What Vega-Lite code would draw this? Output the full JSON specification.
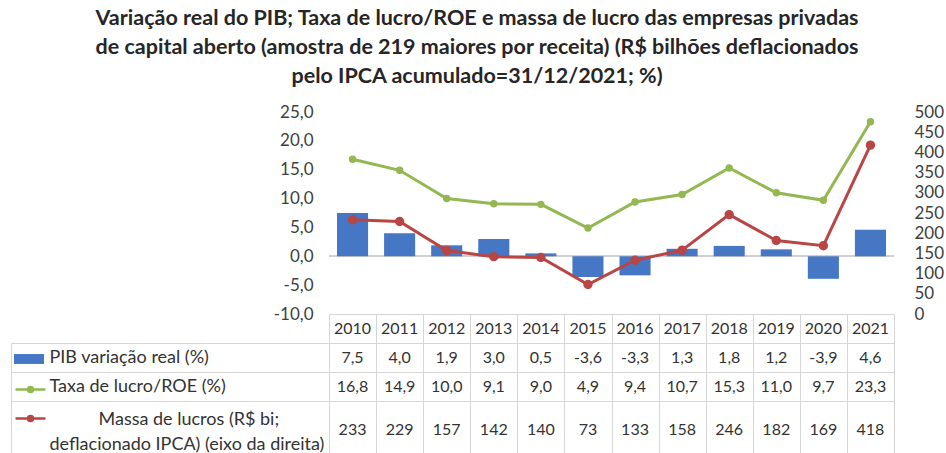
{
  "$schema": "https://vega.github.io/schema/vega-lite/v6.json",
  "background": "white",
  "padding": {"left": 10, "top": 7, "right": 0, "bottom": 0},
  "datasets": {
    "d": [
      {"ano": "2010", "pib": 7.5, "roe": 16.8, "massa": 233},
      {"ano": "2011", "pib": 4.0, "roe": 14.9, "massa": 229},
      {"ano": "2012", "pib": 1.9, "roe": 10.0, "massa": 157},
      {"ano": "2013", "pib": 3.0, "roe": 9.1, "massa": 142},
      {"ano": "2014", "pib": 0.5, "roe": 9.0, "massa": 140},
      {"ano": "2015", "pib": -3.6, "roe": 4.9, "massa": 73},
      {"ano": "2016", "pib": -3.3, "roe": 9.4, "massa": 133},
      {"ano": "2017", "pib": 1.3, "roe": 10.7, "massa": 158},
      {"ano": "2018", "pib": 1.8, "roe": 15.3, "massa": 246},
      {"ano": "2019", "pib": 1.2, "roe": 11.0, "massa": 182},
      {"ano": "2020", "pib": -3.9, "roe": 9.7, "massa": 169},
      {"ano": "2021", "pib": 4.6, "roe": 23.3, "massa": 418}
    ]
  },
  "title": {
    "text": [
      "Variação real do PIB; Taxa de lucro/ROE e massa de lucro das empresas privadas",
      "de capital aberto (amostra de 219 maiores por receita) (R$ bilhões deflacionados",
      "pelo IPCA acumulado=31/12/2021; %)"
    ],
    "font": "Lato",
    "fontSize": 21.5,
    "fontWeight": "bold",
    "color": "#262626",
    "lineHeight": 29,
    "anchor": "middle",
    "offset": 16
  },
  "spacing": 0,
  "bounds": "flush",
  "resolve": {"scale": {"x": "independent", "y": "independent"}},
  "vconcat": [
    {
      "width": 565,
      "height": 202,
      "data": {"name": "d"},
      "layer": [
        {
          "layer": [
            {
              "mark": {"type": "rule", "color": "#d0d0d0", "strokeWidth": 1.5},
              "encoding": {
                "y": {
                  "datum": 0, "type": "quantitative",
                  "scale": {"domain": [-10, 25], "nice": false, "zero": false},
                  "axis": {"values": [25, 20, 15, 10, 5, 0, -5, -10], "format": ".1f", "ticks": false, "domain": false, "grid": false, "labelOverlap": false, "labelFlush": false, "labelPadding": 16, "labelFontSize": 17, "labelColor": "#404040", "labelFont": "Lato", "title": null}
                }
              }
            },
            {
              "mark": {"type": "bar"},
              "encoding": {
                "x": {"field": "ano", "type": "ordinal", "scale": {"paddingInner": 0.34, "paddingOuter": 0.17}, "axis": null},
                "y": {
                  "field": "pib", "type": "quantitative",
                  "axis": {"values": [25, 20, 15, 10, 5, 0, -5, -10], "format": ".1f", "ticks": false, "domain": false, "grid": false, "labelOverlap": false, "labelFlush": false, "labelPadding": 16, "labelFontSize": 17, "labelColor": "#404040", "labelFont": "Lato", "title": null}
                },
                "fill": {
                  "datum": "PIB variação real (%)",
                  "scale": {"range": ["#4677c4"]},
                  "legend": {
                    "orient": "none",
                    "legendX": -315,
                    "legendY": 232,
                    "title": null,
                    "symbolSize": 900,
                    "symbolType": "M-1,-0.33H1V0.33H-1Z",
                    "symbolStrokeWidth": 0,
                    "labelExpr": "''",
                    "labelFontSize": 1
                  }
                }
              }
            },
            {
              "mark": {"type": "line", "strokeWidth": 3, "point": {"filled": true, "size": 55}},
              "encoding": {
                "x": {"field": "ano", "type": "ordinal"},
                "y": {
                  "field": "roe", "type": "quantitative",
                  "axis": {"values": [25, 20, 15, 10, 5, 0, -5, -10], "format": ".1f", "ticks": false, "domain": false, "grid": false, "labelOverlap": false, "labelFlush": false, "labelPadding": 16, "labelFontSize": 17, "labelColor": "#404040", "labelFont": "Lato", "title": null}
                },
                "color": {
                  "datum": "Taxa de lucro/ROE (%)",
                  "scale": {"range": ["#93b851"]},
                  "legend": {
                    "orient": "none",
                    "legendX": -315,
                    "legendY": 261,
                    "title": null,
                    "symbolSize": 900,
                    "symbolType": "M-1,0H1M0.17,0A0.17,0.17,0,1,1,-0.17,0A0.17,0.17,0,1,1,0.17,0",
                    "labelExpr": "''",
                    "labelFontSize": 1,
                    "encode": {
                      "symbols": {
                        "update": {
                          "fill": {"value": "#93b851"},
                          "stroke": {"value": "#93b851"},
                          "strokeWidth": {"value": 2.5},
                          "opacity": {"value": 1}
                        }
                      }
                    }
                  }
                }
              }
            }
          ]
        },
        {
          "mark": {"type": "line", "strokeWidth": 3, "point": {"filled": true, "fill": "#b94545", "size": 55}},
          "encoding": {
            "x": {"field": "ano", "type": "ordinal"},
            "y": {
              "field": "massa", "type": "quantitative",
              "scale": {"domain": [0, 500], "nice": false},
              "axis": {"orient": "right", "values": [0, 50, 100, 150, 200, 250, 300, 350, 400, 450, 500], "format": "d", "ticks": false, "domain": false, "grid": false, "labelOverlap": false, "labelFlush": false, "labelPadding": 20, "labelFontSize": 17, "labelColor": "#404040", "labelFont": "Lato", "title": null}
            },
            "stroke": {
              "datum": "Massa de lucros",
              "scale": {"range": ["#b94545"]},
              "legend": {
                "orient": "none",
                "legendX": -315,
                "legendY": 290,
                "title": null,
                "symbolSize": 900,
                "symbolType": "M-1,0H1M0.17,0A0.17,0.17,0,1,1,-0.17,0A0.17,0.17,0,1,1,0.17,0",
                "labelExpr": "''",
                "labelFontSize": 1,
                "encode": {
                  "symbols": {
                    "update": {
                      "fill": {"value": "#b94545"},
                      "stroke": {"value": "#b94545"},
                      "strokeWidth": {"value": 2.5},
                      "opacity": {"value": 1}
                    }
                  }
                }
              }
            }
          }
        }
      ],
      "resolve": {"scale": {"y": "independent"}}
    },
    {
      "width": 565,
      "height": 145,
      "data": {"name": "d"},
      "encoding": {
        "x": {
          "field": "ano", "type": "ordinal",
          "scale": {"paddingInner": 0, "paddingOuter": 0},
          "axis": {"orient": "top", "grid": true, "tickBand": "extent", "labels": false, "ticks": false, "domain": false, "title": null, "gridColor": "#d6d6d6"}
        }
      },
      "layer": [
        {
          "layer": [
            {
              "mark": {"type": "text", "fontSize": 16, "font": "Lato", "color": "#333333"},
              "encoding": {
                "y": {
                  "datum": "cab", "type": "nominal",
                  "scale": {"type": "band", "domain": ["cab", "pib", "roe", "massa", "massa2"], "paddingInner": 0, "paddingOuter": 0},
                  "axis": {
                    "title": null,
                    "bandPosition": 0,
                    "grid": true,
                    "gridColor": "#d6d6d6",
                    "gridOpacity": {"condition": {"test": "datum.value == 'massa2'", "value": 0}, "value": 1},
                    "ticks": true,
                    "tickSize": 318,
                    "tickColor": "#d6d6d6",
                    "tickOpacity": {"condition": {"test": "datum.value == 'cab' || datum.value == 'massa2'", "value": 0}, "value": 1},
                    "domain": true,
                    "domainColor": "#d6d6d6",
                    "labelExpr": "datum.value == 'pib' ? 'PIB variação real (%)' : datum.value == 'roe' ? 'Taxa de lucro/ROE (%)' : datum.value == 'massa' ? 'Massa de lucros (R$ bi;' : datum.value == 'massa2' ? 'deflacionado IPCA) (eixo da direita)' : ''",
                    "labelAlign": "left",
                    "labelBaseline": "middle",
                    "labelPadding": {"condition": {"test": "datum.value == 'massa'", "value": -87}, "value": -38},
                    "labelOffset": {"condition": {"test": "datum.value == 'massa'", "value": 4}, "value": 0},
                    "labelFont": "Lato",
                    "labelFontSize": 18,
                    "labelColor": "#333333",
                    "labelLimit": 400
                  }
                },
                "text": {"field": "ano", "type": "nominal"}
              }
            },
            {
              "mark": {"type": "text", "fontSize": 16, "font": "Lato", "color": "#333333"},
              "encoding": {
                "y": {"datum": "pib", "type": "nominal"},
                "text": {"field": "pib", "type": "quantitative", "format": ".1f"}
              }
            },
            {
              "mark": {"type": "text", "fontSize": 16, "font": "Lato", "color": "#333333"},
              "encoding": {
                "y": {"datum": "roe", "type": "nominal"},
                "text": {"field": "roe", "type": "quantitative", "format": ".1f"}
              }
            }
          ]
        },
        {
          "mark": {"type": "text", "fontSize": 16, "font": "Lato", "color": "#333333"},
          "encoding": {
            "y": {
              "datum": "massa2", "type": "nominal", "bandPosition": 0,
              "scale": {"type": "band", "domain": ["cab", "pib", "roe", "massa", "massa2"], "paddingInner": 0, "paddingOuter": 0},
              "axis": {"orient": "left", "offset": 318, "labels": false, "ticks": false, "grid": false, "domain": true, "domainColor": "#d6d6d6", "domainDash": [0, 29, 200], "title": null}
            },
            "text": {"field": "massa", "type": "quantitative", "format": "d"}
          }
        }
      ],
      "resolve": {"scale": {"y": "independent"}}
    }
  ],
  "config": {
    "view": {"stroke": null},
    "font": "Lato",
    "locale": {"number": {"decimal": ",", "thousands": ".", "grouping": [3], "currency": ["R$ ", ""], "minus": "-"}}
  }
}
